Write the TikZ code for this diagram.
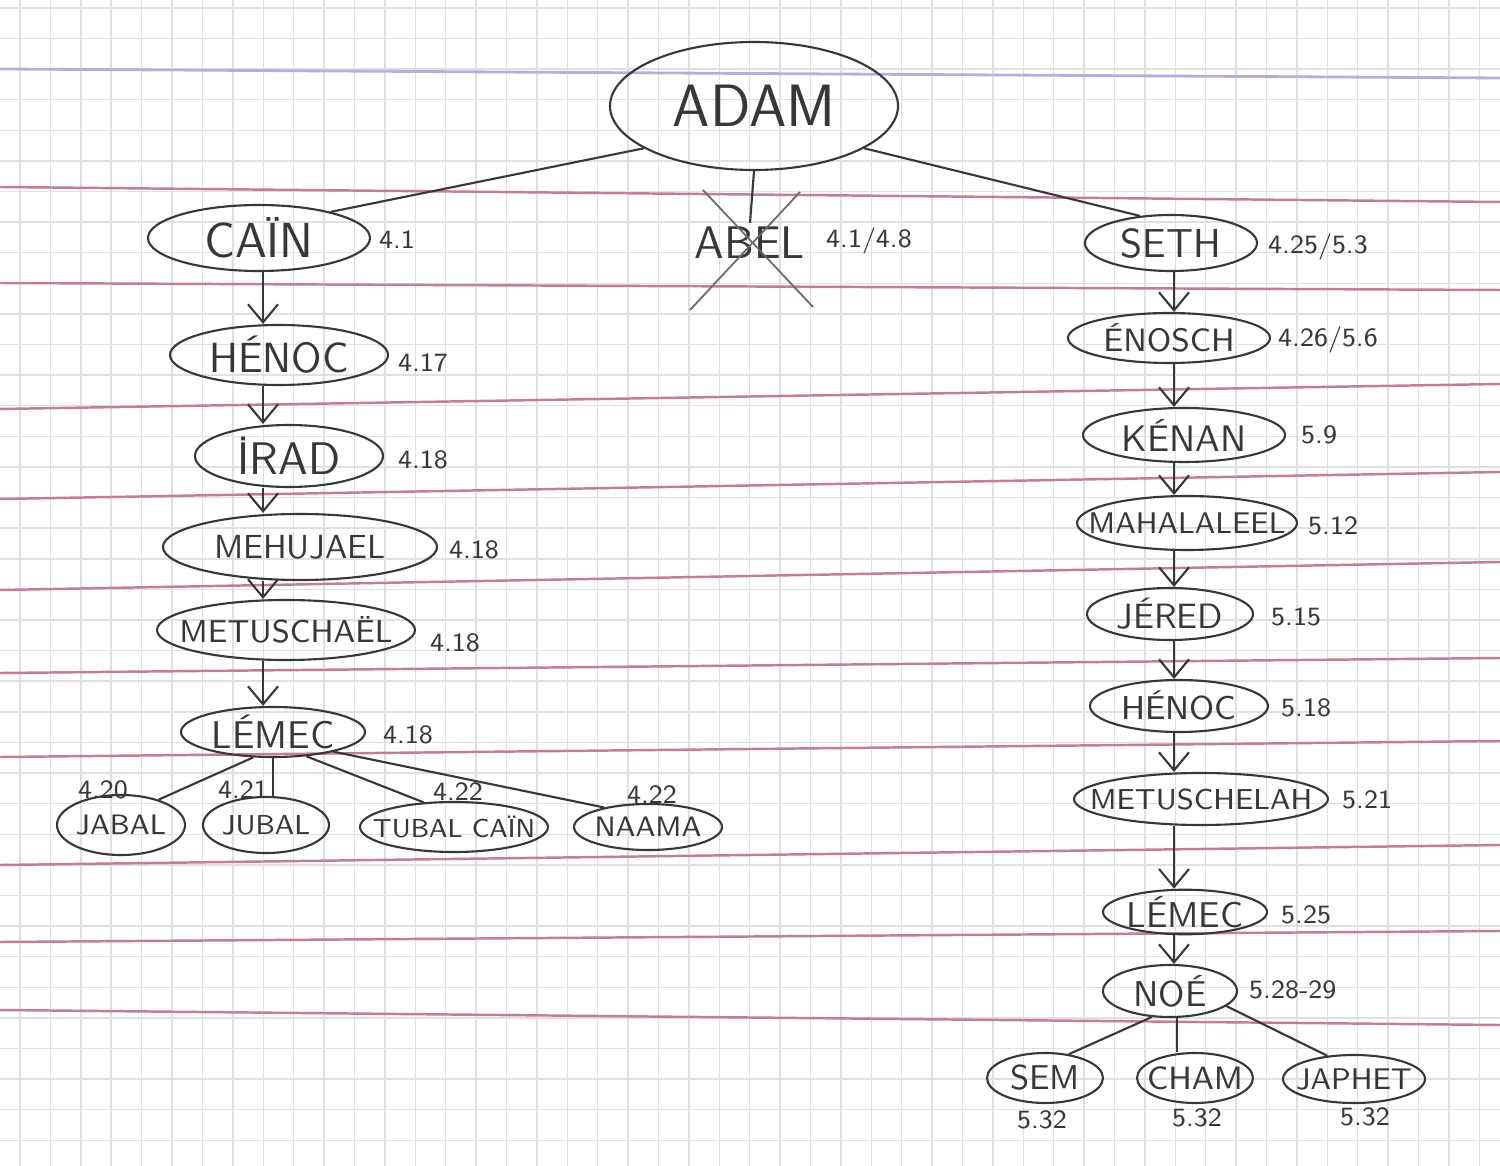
\documentclass[tikz,border=0pt]{standalone}
\usepackage{tikz}
\usetikzlibrary{shapes.geometric,arrows.meta,calc}

\definecolor{ink}{RGB}{55,55,55}
\definecolor{gridgray}{RGB}{224,224,226}
\definecolor{rule}{RGB}{200,122,154}
\definecolor{margin}{RGB}{176,176,224}

\tikzset{
  person/.style={draw=ink, ellipse, line width=0.6pt, inner sep=0pt, text=ink,
    font=\sffamily\fontsize{#1}{#1}\selectfont,
    execute at begin node={\hbox to 0pt\bgroup\hss},
    execute at end node={\hss\egroup}},
  verse/.style={text=ink, inner sep=1pt, font=\sffamily\fontsize{7.5}{8}\selectfont},
  descent/.style={draw=ink, line width=0.6pt, -{Straight Barb[length=1.8mm,width=3mm]}},
  link/.style={draw=ink, line width=0.6pt},
}

\begin{document}
\begin{tikzpicture}[x=0.1mm,y=-0.1mm]
  \useasboundingbox (0,0) rectangle (1500,1166);
  % the squared paper
  \fill[white] (0,0) rectangle (1500,1166);
  \foreach \i in {0,...,48}
    \draw[gridgray, line width=0.4pt] ({20+30.4*\i},0) -- ({20+30.4*\i},1166);
  \foreach \j in {0,...,37}
    \draw[gridgray, line width=0.4pt] (0,{8+30.6*\j}) -- (1500,{8+30.6*\j});
  \draw[margin, line width=0.8pt] (0,69) -- (1500,78);
  \foreach \a/\b in {187/202, 283/290, 409/384, 499/472, 590/562, 673/658,
                     757/741, 865/845, 942/931, 1010/1025}
    \draw[rule, line width=0.7pt] (0,\a) -- (1500,\b);

  % first man
  \node[person=17, minimum width=2.88cm, minimum height=1.28cm] (adam) at (754,106) {ADAM};

  % line of Cain
  \node[person=14, minimum width=2.22cm, minimum height=0.66cm] (cain) at (259,238) {CAÏN};
  \node[person=12, minimum width=2.18cm, minimum height=0.60cm] (henoc) at (279,355) {HÉNOC};
  \node[person=13, minimum width=1.88cm, minimum height=0.62cm] (irad) at (289,456) {İRAD};
  \node[person=9.5, minimum width=2.74cm, minimum height=0.66cm] (mehujael) at (300,547) {MEHUJAEL};
  \node[person=9, minimum width=2.58cm, minimum height=0.60cm] (metuschael) at (286,630) {METUSCHAËL};
  \node[person=11, minimum width=1.84cm, minimum height=0.50cm] (lemec) at (273,732) {LÉMEC};
  \node[person=8, minimum width=1.28cm, minimum height=0.60cm] (jabal) at (121,825) {JABAL};
  \node[person=7.8, minimum width=1.26cm, minimum height=0.56cm] (jubal) at (266,825) {JUBAL};
  \node[person=7.4, minimum width=1.88cm, minimum height=0.50cm] (tubal) at (454,827) {TUBAL CAÏN};
  \node[person=8, minimum width=1.48cm, minimum height=0.46cm] (naama) at (648,827) {NAAMA};

  % Abel
  \node[text=ink, inner sep=1pt, font=\sffamily\fontsize{13}{13}\selectfont] (abel) at (750,243) {ABEL};
  \draw[ink!75, line width=0.5pt] ($(abel)+(-47,-53)$) -- ($(abel)+(63,64)$);
  \draw[ink!75, line width=0.5pt] ($(abel)+(50,-51)$) -- ($(abel)+(-60,67)$);

  % line of Seth
  \node[person=11.5, minimum width=1.72cm, minimum height=0.56cm] (seth) at (1171,243) {SETH};
  \node[person=9.2, minimum width=2.02cm, minimum height=0.50cm] (enosch) at (1169,338) {ÉNOSCH};
  \node[person=10.5, minimum width=2.02cm, minimum height=0.54cm] (kenan) at (1184,435) {KÉNAN};
  \node[person=8.5, minimum width=2.20cm, minimum height=0.54cm] (mahalaleel) at (1187,523) {MAHALALEEL};
  \node[person=10, minimum width=1.66cm, minimum height=0.52cm] (jered) at (1170,614) {JÉRED};
  \node[person=9.4, minimum width=1.78cm, minimum height=0.52cm] (henocs) at (1179,706) {HÉNOC};
  \node[person=8.2, minimum width=2.54cm, minimum height=0.52cm] (metuschelah) at (1201,799) {METUSCHELAH};
  \node[person=10.2, minimum width=1.64cm, minimum height=0.44cm] (lemecs) at (1185,912) {LÉMEC};
  \node[person=10.2, minimum width=1.34cm, minimum height=0.52cm] (noe) at (1170,991) {NOÉ};
  \node[person=9.8, minimum width=1.16cm, minimum height=0.50cm] (sem) at (1045,1078) {SEM};
  \node[person=9.2, minimum width=1.16cm, minimum height=0.50cm] (cham) at (1195,1078) {CHAM};
  \node[person=8.5, minimum width=1.42cm, minimum height=0.48cm] (japhet) at (1354,1079) {JAPHET};

  % verses
  \node[verse, anchor=west] (vcain) at (375,240) {4.1};
  \node[verse, anchor=west] (vabel) at (822,241) {4.1/4.8};
  \node[verse, anchor=west] (vhenoc) at (394,363) {4.17};
  \node[verse, anchor=west] (virad) at (394,460) {4.18};
  \node[verse, anchor=west] (vmehujael) at (445,550) {4.18};
  \node[verse, anchor=west] (vmetuschael) at (426,643) {4.18};
  \node[verse, anchor=west] (vlemec) at (379,735) {4.18};
  \node[verse] (vjabal) at (103,790) {4.20};
  \node[verse] (vjubal) at (243,790) {4.21};
  \node[verse] (vtubal) at (458,792) {4.22};
  \node[verse] (vnaama) at (652,795) {4.22};
  \node[verse, anchor=west] (vseth) at (1264,247) {4.25/5.3};
  \node[verse, anchor=west] (venosch) at (1274,340) {4.26/5.6};
  \node[verse, anchor=west] (vkenan) at (1297,435) {5.9};
  \node[verse, anchor=west] (vmahalaleel) at (1304,526) {5.12};
  \node[verse, anchor=west] (vjered) at (1267,617) {5.15};
  \node[verse, anchor=west] (vhenocs) at (1277,708) {5.18};
  \node[verse, anchor=west] (vmetuschelah) at (1338,800) {5.21};
  \node[verse, anchor=west] (vlemecs) at (1277,915) {5.25};
  \node[verse, anchor=west] (vnoe) at (1245,990) {5.28-29};
  \node[verse] (vsem) at (1042,1120) {5.32};
  \node[verse] (vcham) at (1197,1118) {5.32};
  \node[verse] (vjaphet) at (1365,1117) {5.32};

  % sons of Adam
  \draw[link] (adam.201) -- (cain.20);
  \draw[link] (adam.south) -- (abel.north);
  \draw[link] (adam.339) -- (seth.139);

  % descent
  \coordinate (lcol) at (263,0);
  \coordinate (rcol) at (1174,0);
  \draw[descent] (cain.south -| lcol) -- (henoc.north -| lcol);
  \draw[descent] (henoc.south -| lcol) -- (irad.north -| lcol);
  \draw[descent] (irad.south -| lcol) -- (mehujael.north -| lcol);
  \draw[descent] (mehujael.south -| lcol) -- (metuschael.north -| lcol);
  \draw[descent] (metuschael.south -| lcol) -- (lemec.north -| lcol);
  \draw[descent] (seth.south -| rcol) -- (enosch.north -| rcol);
  \draw[descent] (enosch.south -| rcol) -- (kenan.north -| rcol);
  \draw[descent] (kenan.south -| rcol) -- (mahalaleel.north -| rcol);
  \draw[descent] (mahalaleel.south -| rcol) -- (jered.north -| rcol);
  \draw[descent] (jered.south -| rcol) -- (henocs.north -| rcol);
  \draw[descent] (henocs.south -| rcol) -- (metuschelah.north -| rcol);
  \draw[descent] (metuschelah.south -| rcol) -- (lemecs.north -| rcol);
  \draw[descent] (lemecs.south -| rcol) -- (noe.north -| rcol);

  % children
  \draw[link] (lemec.232) -- (jabal.34);
  \draw[link] (lemec.south) -- (lemec.south |- jubal.north);
  \draw[link] (lemec.324) -- (tubal.141);
  \draw[link] (lemec.342) -- (naama.156);
  \draw[link] (noe.235) -- (sem.45);
  \draw[link] (noe.285) -- (noe.285 |- cham.north);
  \draw[link] (noe.345) -- (japhet.139);
\end{tikzpicture}
\end{document}
